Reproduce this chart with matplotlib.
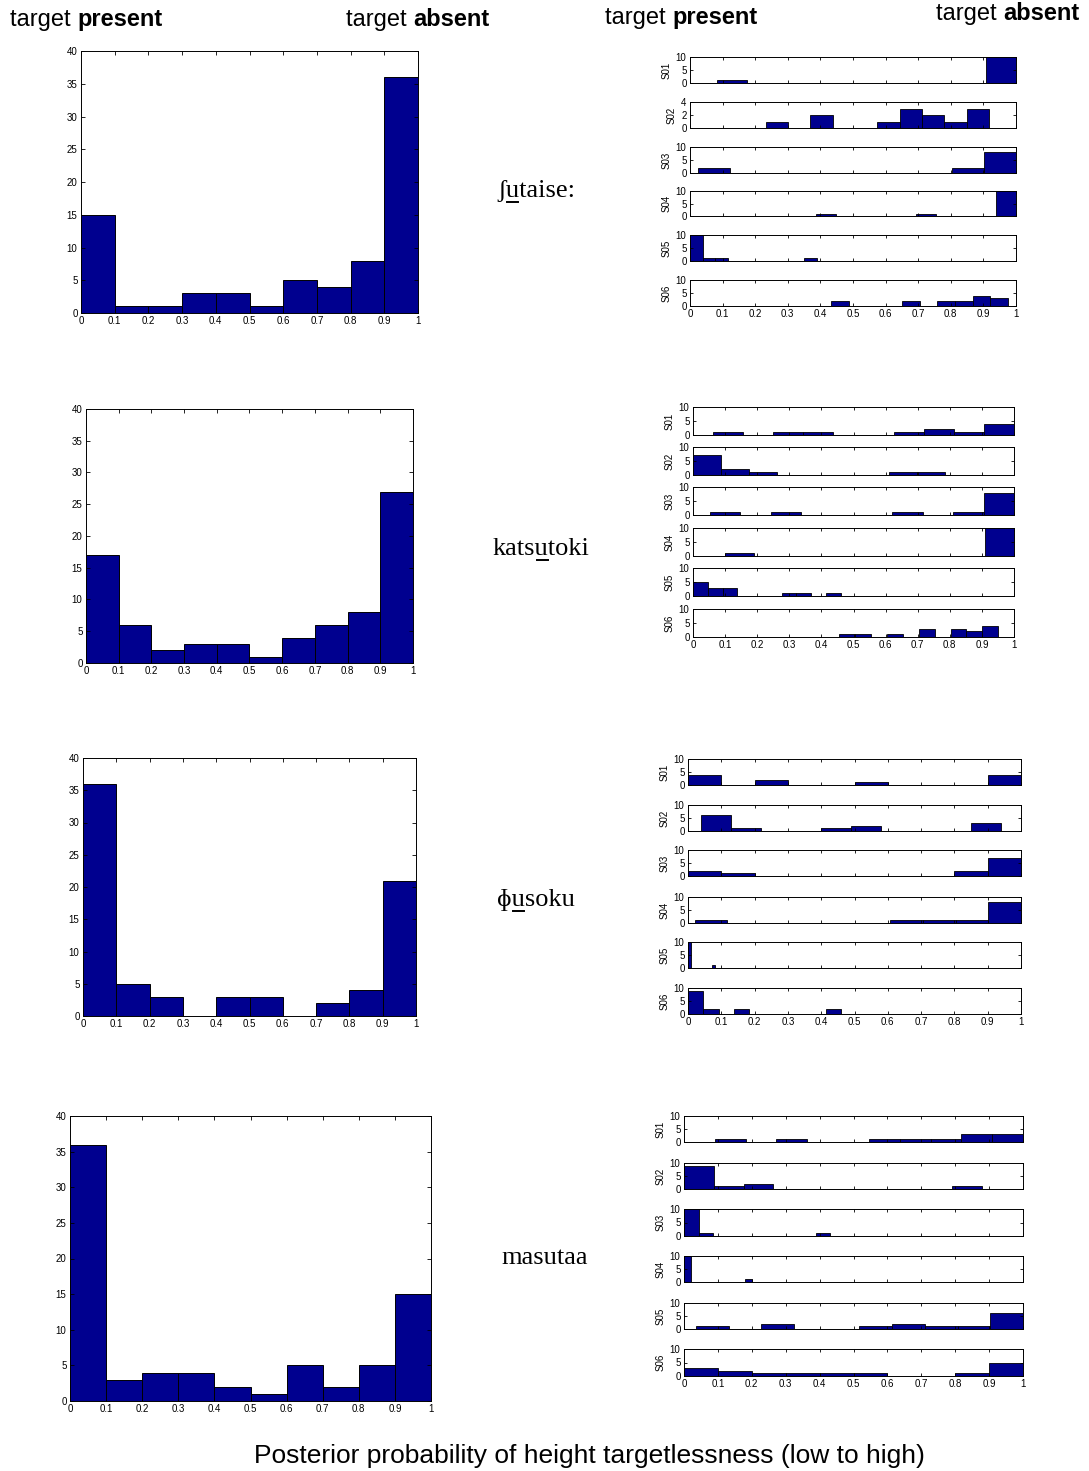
import matplotlib
matplotlib.use('Agg')
import matplotlib.pyplot as plt
import numpy as np
from matplotlib.lines import Line2D
from matplotlib.transforms import IdentityTransform

W, H, DPI = 1089, 1471, 100

# ---------------- data ----------------
words = ['ʃutaise:', 'katsutoki', 'ɸusoku', 'masutaa']
underline_at = [1, 4, 1, None]          # index of the underlined vowel

subjects = ['S01', 'S02', 'S03', 'S04', 'S05', 'S06']
bin_edges = np.linspace(0, 1, 11)

# pooled histograms (left column)
pooled_futaise = [15, 1, 1, 3, 3, 1, 5, 4, 8, 36]
pooled_katsutoki = [17, 6, 2, 3, 3, 1, 4, 6, 8, 27]
pooled_fusoku = [36, 5, 3, 0, 3, 3, 0, 2, 4, 21]
pooled_masutaa = [36, 3, 4, 4, 2, 1, 5, 2, 5, 15]

# per-subject histograms (right column): 10 bins between lo and hi
lo_futaise = [0.083, 0.232, 0.024, 0.385, 0.0, 0.433]
hi_futaise = [1.0, 0.917, 1.0, 1.0, 0.39, 0.976]
counts_futaise = [
    [1, 0, 0, 0, 0, 0, 0, 0, 0, 12],
    [1, 0, 2, 0, 0, 1, 3, 2, 1, 3],
    [2, 0, 0, 0, 0, 0, 0, 0, 2, 8],
    [1, 0, 0, 0, 0, 1, 0, 0, 0, 11],
    [10, 1, 1, 0, 0, 0, 0, 0, 0, 1],
    [2, 0, 0, 0, 2, 0, 2, 2, 4, 3],
]
ymax_futaise = [10, 4, 10, 10, 10, 10]

lo_katsutoki = [0.062, 0.0, 0.052, 0.1, 0.0, 0.455]
hi_katsutoki = [1.0, 0.871, 1.0, 1.0, 0.46, 0.951]
counts_katsutoki = [
    [1, 0, 1, 1, 0, 0, 1, 2, 1, 4],
    [7, 2, 1, 0, 0, 0, 0, 1, 1, 0],
    [1, 0, 1, 0, 0, 0, 1, 0, 1, 8],
    [1, 0, 0, 0, 0, 0, 0, 0, 0, 11],
    [5, 3, 3, 0, 0, 0, 1, 1, 0, 1],
    [1, 1, 0, 1, 0, 3, 0, 3, 2, 4],
]
ymax_katsutoki = [10, 10, 10, 10, 10, 10]

lo_fusoku = [0.0, 0.039, 0.0, 0.02, 0.0, 0.0]
hi_fusoku = [1.0, 0.939, 1.0, 1.0, 0.08, 0.459]
counts_fusoku = [
    [4, 0, 2, 0, 0, 1, 0, 0, 0, 4],
    [6, 1, 0, 0, 1, 2, 0, 0, 0, 3],
    [2, 1, 0, 0, 0, 0, 0, 0, 2, 7],
    [1, 0, 0, 0, 0, 0, 1, 1, 1, 8],
    [12, 0, 0, 0, 0, 0, 0, 0, 0, 1],
    [9, 2, 0, 2, 0, 0, 0, 0, 0, 2],
]
ymax_fusoku = [10, 10, 10, 10, 10, 10]

lo_masutaa = [0.091, 0.0, 0.0, 0.0, 0.035, 0.0]
hi_masutaa = [1.0, 0.88, 0.432, 0.2, 1.0, 1.0]
counts_masutaa = [
    [1, 0, 1, 0, 0, 1, 1, 1, 3, 3],
    [9, 1, 2, 0, 0, 0, 0, 0, 0, 1],
    [11, 1, 0, 0, 0, 0, 0, 0, 0, 1],
    [12, 0, 0, 0, 0, 0, 0, 0, 0, 1],
    [1, 0, 2, 0, 0, 1, 2, 1, 1, 6],
    [3, 2, 1, 1, 1, 1, 0, 0, 1, 5],
]
ymax_masutaa = [10, 10, 10, 10, 10, 10]

pooled = [pooled_futaise, pooled_katsutoki, pooled_fusoku, pooled_masutaa]
sub_lo = [lo_futaise, lo_katsutoki, lo_fusoku, lo_masutaa]
sub_hi = [hi_futaise, hi_katsutoki, hi_fusoku, hi_masutaa]
sub_counts = [counts_futaise, counts_katsutoki, counts_fusoku, counts_masutaa]
sub_ymax = [ymax_futaise, ymax_katsutoki, ymax_fusoku, ymax_masutaa]

# ---------------- layout (pixels) ----------------
left_boxes = [(81, 51, 418, 313), (86, 409, 413, 663),
              (83, 758, 416, 1016), (70, 1116, 431, 1401)]
right_x = [(690, 1016), (693, 1014), (688, 1021), (684, 1023)]
right_y = [
    [(57, 83), (102, 128), (147, 173), (191, 216), (235, 261), (280, 306)],
    [(407, 435), (447, 475), (487, 515), (528, 556), (568, 596), (609, 637)],
    [(759, 785), (805, 831), (850, 876), (897, 923), (942, 968), (988, 1014)],
    [(1116, 1142), (1163, 1189), (1209, 1236), (1256, 1282), (1303, 1329), (1349, 1376)],
]
word_pos = [(497, 197), (493, 555), (497, 906), (501, 1264)]  # left x, baseline y

bar_color = '#00008F'
tick_font = ['Liberation Sans Narrow', 'Liberation Sans', 'DejaVu Sans']
sans = ['Liberation Sans', 'DejaVu Sans']
serif = ['Liberation Serif', 'DejaVu Serif']

fig = plt.figure(figsize=(W / DPI, H / DPI), dpi=DPI)
fig.patch.set_facecolor('white')


def px_axes(x0, y0, x1, y1):
    return fig.add_axes([x0 / W, 1 - y1 / H, (x1 - x0) / W, (y1 - y0) / H])


def style_axes(ax, tlen, fs):
    ax.tick_params(direction='in', top=True, right=True, length=tlen, width=0.6,
                   pad=2.5, labelsize=fs)
    for s in ax.spines.values():
        s.set_linewidth(0.7)
    for lab in ax.get_xticklabels() + ax.get_yticklabels():
        lab.set_family(tick_font)


xt = np.round(np.arange(0, 1.01, 0.1), 1)
xt_labels = [f'{v:g}' for v in xt]

for g in range(4):
    # pooled histogram
    ax = px_axes(*left_boxes[g])
    ax.bar(bin_edges[:-1], pooled[g], width=0.1, align='edge',
           color=bar_color, edgecolor='black', linewidth=0.7)
    ax.set_xlim(0, 1)
    ax.set_ylim(0, 40)
    ax.set_xticks(xt)
    ax.set_xticklabels(xt_labels)
    ax.set_yticks(np.arange(0, 41, 5))
    style_axes(ax, 3, 7)

    # per-subject histograms
    x0, x1 = right_x[g]
    for i, subj in enumerate(subjects):
        y0, y1 = right_y[g][i]
        a = px_axes(x0, y0, x1, y1)
        edges = np.linspace(sub_lo[g][i], sub_hi[g][i], 11)
        a.bar(edges[:-1], sub_counts[g][i], width=edges[1] - edges[0], align='edge',
              color=bar_color, edgecolor='black', linewidth=0.6)
        a.set_xlim(0, 1)
        ym = sub_ymax[g][i]
        a.set_ylim(0, ym)
        a.set_yticks([0, ym / 2, ym])
        a.set_yticklabels([f'{v:g}' for v in (0, ym / 2, ym)])
        a.set_xticks(xt)
        if i == len(subjects) - 1:
            a.set_xticklabels(xt_labels)
        else:
            a.set_xticklabels([])
        a.set_ylabel(subj, fontsize=7, labelpad=3, family=tick_font)
        style_axes(a, 2, 7)

# ---------------- text ----------------
renderer = fig.canvas.get_renderer()
ident = IdentityTransform()

for g, w in enumerate(words):
    lx, by = word_pos[g]
    t = fig.text(lx, H - by, w, transform=ident, ha='left', va='baseline',
                 fontsize=19, family=serif)
    k = underline_at[g]
    if k is not None:
        pre = fig.text(lx, H - by, w[:k], transform=ident, ha='left', va='baseline',
                       fontsize=19, family=serif, alpha=0)
        pre_u = fig.text(lx, H - by, w[:k + 1], transform=ident, ha='left', va='baseline',
                         fontsize=19, family=serif, alpha=0)
        xa = pre.get_window_extent(renderer).x1
        xb = pre_u.get_window_extent(renderer).x1
        pre.remove()
        pre_u.remove()
        fig.add_artist(Line2D([xa + 1, xb - 1], [H - by - 5, H - by - 5], transform=ident,
                              color='black', linewidth=1.4))

headers = [(10, 26, 'present'), (346, 26, 'absent'), (605, 24, 'present'), (936, 20, 'absent')]
for hx, hy, word in headers:
    t1 = fig.text(hx, H - hy, 'target ', transform=ident, ha='left', va='baseline',
                  fontsize=17, family=sans)
    fig.canvas.draw()
    xe = t1.get_window_extent(renderer).x1
    fig.text(xe, H - hy, word, transform=ident, ha='left', va='baseline',
             fontsize=17, family=sans, fontweight='bold')

fig.text(589, H - 1463, 'Posterior probability of height targetlessness (low to high)',
         transform=ident, ha='center', va='baseline', fontsize=19, family=sans)

fig.savefig('out.png', dpi=DPI, facecolor='white')
